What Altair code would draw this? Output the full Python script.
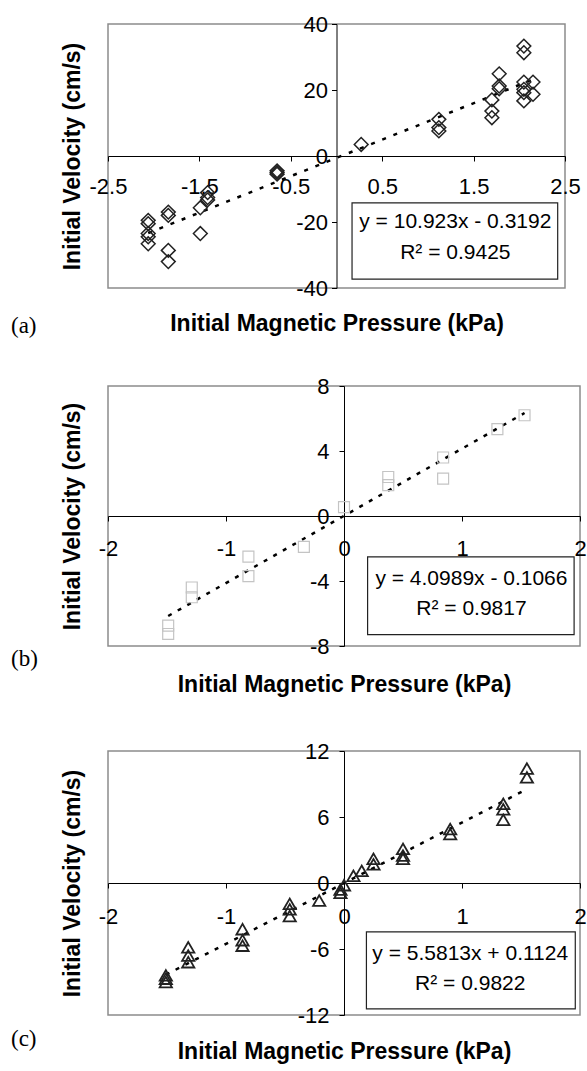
import altair as alt
import pandas as pd

# ---------------- data ----------------
# Panel (a): diamonds
a_x = [-2.06, -2.06, -2.06, -2.06, -2.06,
       -1.84, -1.84, -1.84, -1.84,
       -1.49, -1.49,
       -1.41, -1.41, -1.41,
       -0.65, -0.65, -0.65,
       0.27,
       1.12, 1.12, 1.12,
       1.70, 1.70, 1.70,
       1.78, 1.78, 1.78,
       2.05, 2.05, 2.05, 2.05, 2.05, 2.05,
       2.15, 2.15]
a_y = [-19.5, -20.5, -23.5, -24.5, -26.6,
       -17.0, -18.0, -28.6, -32.0,
       -15.7, -23.5,
       -11.1, -12.6, -13.3,
       -4.5, -5.0, -5.5,
       3.5,
       11.1, 8.6, 7.6,
       17.0, 13.6, 11.6,
       24.9, 21.2, 20.4,
       33.3, 31.3, 22.4, 20.2, 19.2, 16.7,
       22.4, 18.7]

# Panel (b): squares
b_x = [-1.49, -1.49, -1.29, -1.29, -0.81, -0.81, -0.34, 0.0,
       0.375, 0.375, 0.84, 0.84, 1.30, 1.53]
b_y = [-6.75, -7.26, -4.4, -5.0, -2.5, -3.7, -1.9, 0.55,
       2.4, 1.9, 3.6, 2.3, 5.35, 6.2]

# Panel (c): triangles
c_x = [-1.51, -1.51, -1.51, -1.32, -1.32, -1.32, -0.86, -0.86, -0.86,
       -0.46, -0.46, -0.46, -0.21, -0.03, -0.03, 0.0, 0.08, 0.15,
       0.25, 0.25, 0.5, 0.5, 0.5, 0.9, 0.9, 1.35, 1.35, 1.35, 1.55, 1.55]
c_y = [-8.4, -8.7, -9.0, -5.85, -6.6, -7.2, -4.2, -5.2, -5.7,
       -1.9, -2.4, -3.0, -1.6, -0.6, -0.9, -0.2, 0.66, 1.1,
       2.2, 1.7, 3.1, 2.5, 2.2, 4.9, 4.45, 7.2, 6.7, 5.75, 10.4, 9.6]

# axis domains and tick labels
a_xticks = [-2.5, -1.5, -0.5, 0.5, 1.5, 2.5]
a_yticks = [-40, -20, 0, 20, 40]
b_xticks = [-2, -1, 0, 1, 2]
b_yticks = [-8, -4, 0, 4, 8]
c_xticks = [-2, -1, 0, 1, 2]
c_yticks = [-12, -6, 0, 6, 12]

a_eq = ["y = 10.923x - 0.3192", "R\u00b2 = 0.9425"]
b_eq = ["y = 4.0989x - 0.1066", "R\u00b2 = 0.9817"]
c_eq = ["y = 5.5813x + 0.1124", "R\u00b2 = 0.9822"]

X_TITLE = "Initial Magnetic Pressure (kPa)"
Y_TITLE = "Initial Velocity (cm/s)"
FONT = "Liberation Sans"


def panel(px, py, xdom, xticks, ydom, yticks, W, H, shape, size, color, sw,
          dash, box, eq, tag, xt_dy, tag_dy, xpad, ypad):
    pts = pd.DataFrame({"x": px, "y": py})
    xenc = alt.X(
        "x:Q",
        scale=alt.Scale(domain=xdom, nice=False, zero=False),
        axis=alt.Axis(values=xticks, labelExpr="'' + datum.value",
                      offset=-H / 2, title=X_TITLE, titleX=W / 2,
                      titleY=H / 2 + xt_dy, titleBaseline="middle",
                      titleAlign="center", labelPadding=xpad,
                      labelFlush=False, labelOverlap=False),
    )
    yenc = alt.Y(
        "y:Q",
        scale=alt.Scale(domain=ydom, nice=False, zero=False),
        axis=alt.Axis(values=yticks, labelExpr="'' + datum.value",
                      offset=-W / 2, title=Y_TITLE, titleX=-(W / 2 + 36),
                      titleY=H / 2, titleAngle=270, titleBaseline="middle",
                      titleAlign="center", labelPadding=ypad,
                      labelFlush=False, labelOverlap=False),
    )
    trend = (alt.Chart(pts).transform_regression("x", "y")
             .mark_line(color="black", strokeDash=dash, strokeWidth=2.5)
             .encode(x=xenc, y=yenc))
    points = (alt.Chart(pts)
              .mark_point(shape=shape, size=size, filled=False, color=color,
                          strokeWidth=sw, opacity=1)
              .encode(x=xenc, y=yenc))
    bx0, bx1, by0, by1, cx, l1, l2 = box
    boxdf = pd.DataFrame({"x": [bx0], "x2": [bx1], "y": [by0], "y2": [by1]})
    rect = (alt.Chart(boxdf)
            .mark_rect(fill="white", stroke="#222", strokeWidth=1.2)
            .encode(x=xenc, x2="x2", y=yenc, y2="y2"))
    eqdf = pd.DataFrame({"x": [cx, cx], "y": [l1, l2], "t": eq})
    eqt = (alt.Chart(eqdf)
           .mark_text(font=FONT, fontSize=21, color="black")
           .encode(x=xenc, y=yenc, text="t:N"))
    tagdf = pd.DataFrame({"t": [tag]})
    tagt = (alt.Chart(tagdf)
            .mark_text(font="Liberation Serif", fontSize=23, align="left",
                       baseline="middle", color="black")
            .encode(x=alt.value(-97), y=alt.value(H + tag_dy), text="t:N"))
    return alt.layer(trend, points, rect, eqt, tagt).properties(width=W, height=H)


A = panel(a_x, a_y, [-2.5, 2.5], a_xticks, [-40, 40], a_yticks, 457, 264,
          "diamond", 190, "#222", 1.5, [4, 8],
          (0.17, 2.42, -14.2, -37.3, 1.3, -20.0, -29.4), a_eq, "(a)",
          35, 38, 15, 4)
B = panel(b_x, b_y, [-2, 2], b_xticks, [-8, 8], b_yticks, 472, 260,
          "square", 120, "#c4c4c4", 1.2, [4, 7],
          (0.2, 1.95, -2.52, -7.3, 1.08, -3.88, -5.72), b_eq, "(b)",
          38, 13, 17, 10)
C = panel(c_x, c_y, [-2, 2], c_xticks, [-12, 12], c_yticks, 472, 264,
          "triangle-up", 150, "#222", 1.8, [4, 7],
          (0.19, 1.96, -4.45, -11.45, 1.07, -6.45, -9.2), c_eq, "(c)",
          36, 24, 18, 10)

chart = (
    alt.vconcat(alt.vconcat(A, B, spacing=35), C, spacing=42)
    .configure_view(stroke="#8c8c8c", strokeWidth=1.5)
    .configure_axis(domainColor="black", domainWidth=1, tickColor="black",
                    tickSize=5, grid=False, labelFont=FONT, labelFontSize=22,
                    labelColor="black", titleFont=FONT, titleFontSize=23,
                    titleFontWeight="bold", titleColor="black")
    .properties(padding={"left": 10, "top": 12, "right": 0, "bottom": 0},
                background="white")
)

chart.save("out.html", embed_options={"renderer": "svg", "actions": False})
